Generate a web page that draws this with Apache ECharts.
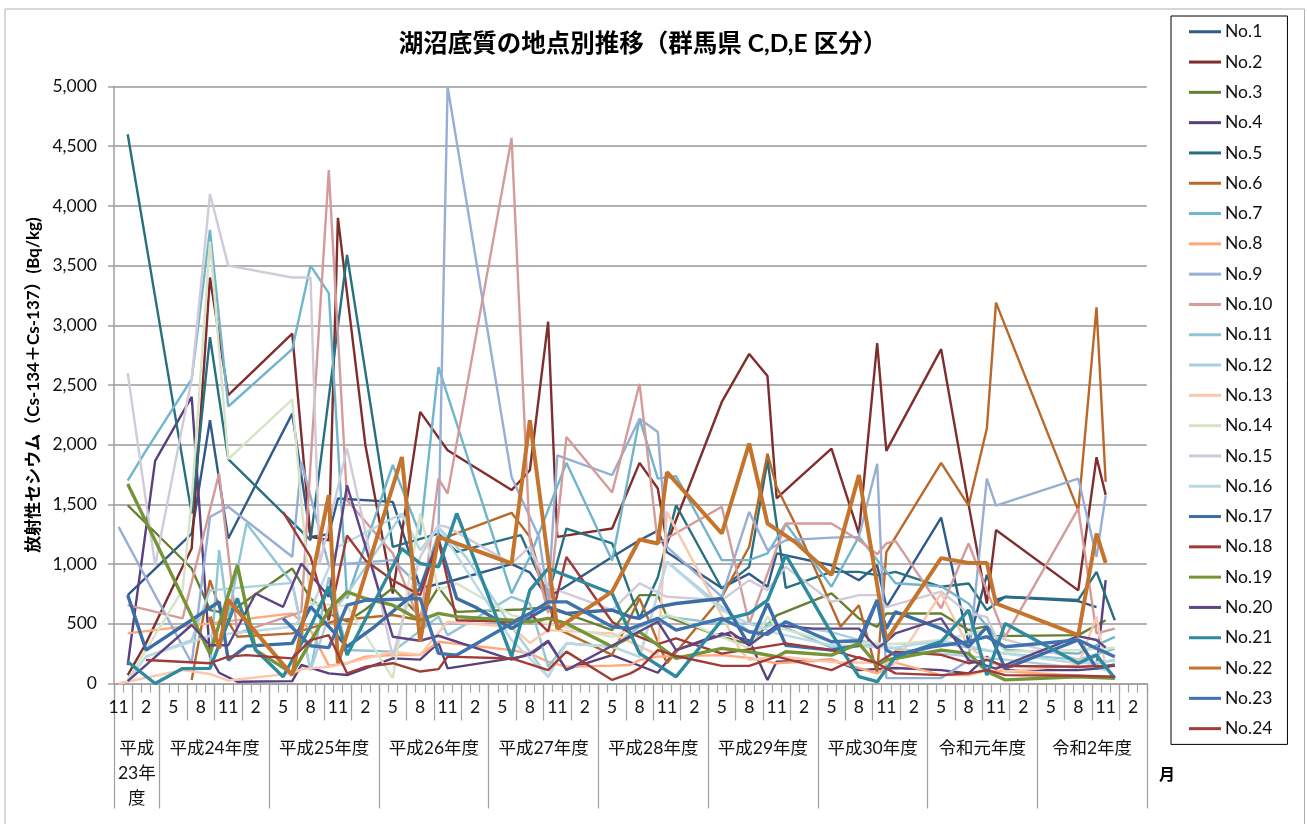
<!DOCTYPE html>
<html><head><meta charset="utf-8">
<style>html,body{margin:0;padding:0;background:#fff;overflow:hidden}#c{width:1307px;height:824px}</style>
<script src="https://cdn.jsdelivr.net/npm/echarts@6/dist/echarts.min.js"></script>
</head><body><div id="c"></div>
<script>
// Month labels: Nov 2011 .. Mar 2021 (index 0 = Nov of FY H23)
const monthNames = [11,12,1,2,3];
for (let y = 0; y < 9; y++) monthNames.push(4,5,6,7,8,9,10,11,12,1,2,3);
const months = monthNames.map(String);
const yearLabels = ['平成\n23年\n度','平成24年度','平成25年度','平成26年度','平成27年度','平成28年度','平成29年度','平成30年度','令和元年度','令和2年度'];
const yearBoundaries = [0,5,17,29,41,53,65,77,89,101,113];
const seriesNames = Array.from({length:24},(_,i)=>'No.'+(i+1));
// each series: [month index, Bq/kg]
const no1=[[1,740],[8,1256],[10,2205],[12,1214],[19,2260],[21,1228],[23,1250],[24,1549],[30,1521],[31,1290],[33,800],[36,850],[43,1000],[45,930],[47,720],[54,1060],[57,1200],[59,1280],[60,1100],[66,800],[69,920],[71,810],[72,1090],[78,990],[81,865],[83,990],[84,640],[90,1390],[93,340],[95,910],[96,700],[97,725],[105,690],[107,640]];
const no2=[[1,70],[3,336],[7,977],[8,1130],[10,3400],[12,2415],[19,2930],[21,1228],[23,1200],[24,3900],[27,2000],[30,754],[33,2275],[36,1953],[43,1620],[45,1786],[47,3030],[48,1228],[54,1298],[57,1848],[59,1633],[60,1173],[66,2358],[69,2760],[71,2575],[72,1550],[74,1690],[78,1968],[81,1255],[83,2850],[84,1948],[90,2800],[93,1500],[95,670],[96,1285],[105,780],[107,1895],[108,1580]];
const no3=[[1,1493],[8,963],[10,615],[11,600],[13,640],[19,963],[21,712],[23,586],[25,520],[27,620],[30,800],[33,560],[35,805],[37,600],[44,620],[47,640],[54,447],[56,640],[57,740],[59,740],[60,560],[66,390],[69,330],[72,570],[78,754],[81,545],[83,475],[84,586],[90,586],[93,447],[95,480],[96,397],[105,405],[108,530]];
const no4=[[1,155],[4,1865],[8,2400],[10,225],[11,90],[13,15],[19,20],[20,155],[23,85],[25,71],[30,210],[33,200],[35,340],[36,127],[43,210],[45,238],[47,350],[49,118],[54,238],[59,90],[61,280],[66,420],[69,360],[71,30],[72,183],[78,200],[81,112],[85,130],[90,112],[93,85],[95,225],[97,112],[105,112],[107,125],[108,866]];
const no5=[[1,4600],[8,1423],[10,2900],[12,1880],[21,1200],[25,3590],[30,1145],[35,1256],[37,1103],[44,1243],[47,740],[49,1298],[54,1173],[57,545],[59,890],[61,1493],[66,796],[69,977],[71,1870],[73,800],[78,935],[81,935],[83,908],[84,920],[85,935],[90,810],[93,838],[95,615],[97,726],[105,700],[107,935],[109,530]];
const no6=[[8,30],[10,866],[11,642],[13,392],[19,420],[24,530],[30,574],[33,530],[35,1200],[43,1430],[45,1228],[47,670],[48,460],[54,240],[57,712],[60,170],[66,726],[69,1145],[71,1925],[72,1646],[74,1340],[79,475],[81,655],[83,85],[84,1100],[90,1848],[93,1490],[95,2135],[96,3190],[105,1450],[107,3150],[108,1690]];
const no7=[[1,1700],[3,1950],[8,2550],[10,3800],[12,2320],[19,2800],[21,3500],[23,3270],[25,712],[30,1830],[33,1243],[35,2650],[43,755],[45,1060],[49,1848],[54,1030],[57,2218],[59,1716],[61,1736],[66,1033],[69,1033],[71,1090],[73,1340],[78,810],[81,1230],[85,840],[90,815],[93,670],[95,480],[97,280],[105,250],[109,390]];
const no8=[[1,420],[19,587],[21,447],[23,150],[25,170],[27,224],[30,239],[33,239],[35,350],[43,280],[45,250],[47,183],[49,140],[54,150],[56,155],[57,197],[59,225],[66,238],[69,215],[72,170],[78,197],[83,85],[85,175],[90,70],[93,70],[95,110],[107,57],[109,57]];
const no9=[[0,1312],[8,170],[10,1395],[12,1480],[19,1061],[20,1856],[23,990],[30,1033],[33,810],[35,1260],[36,5000],[43,1730],[46,1228],[47,700],[48,1910],[54,1745],[57,2218],[59,2107],[60,1145],[66,726],[69,1437],[71,1117],[73,1200],[78,1222],[81,1228],[83,1840],[84,45],[90,45],[93,195],[95,1716],[96,1490],[105,1716],[107,1060],[108,1575]];
const no10=[[1,657],[7,545],[11,1760],[13,420],[20,600],[23,4300],[25,1535],[30,1090],[33,500],[35,1716],[36,1590],[43,4570],[45,1200],[47,590],[49,2065],[54,1600],[57,2510],[59,1173],[66,1480],[69,500],[73,1340],[78,1340],[81,1200],[83,1083],[84,1173],[85,1195],[90,630],[93,1173],[97,390],[105,1465],[107,420],[109,460]];
const no11=[[10,140],[11,1117],[12,560],[14,1340],[19,840],[21,110],[23,890],[25,280],[30,267],[35,560],[36,405],[43,726],[45,670],[47,140],[49,335],[54,310],[57,475],[60,560],[66,500],[72,500],[78,300],[84,330],[90,340],[97,250],[105,200],[109,290]];
const no12=[[3,225],[8,364],[10,780],[19,843],[21,112],[23,560],[25,750],[31,1417],[33,1117],[35,1310],[38,1060],[43,475],[47,55],[49,336],[54,308],[57,224],[60,1020],[66,642],[69,430],[72,500],[78,430],[84,300],[90,250],[97,200],[105,130],[109,200]];
const no13=[[0,0],[7,112],[10,80],[12,25],[19,85],[20,120],[23,140],[25,170],[30,266],[33,240],[36,517],[43,475],[45,340],[47,447],[54,420],[59,240],[60,1437],[68,280],[69,197],[72,230],[78,180],[85,170],[90,754],[93,307],[97,100],[105,155],[107,560],[108,130]];
const no14=[[1,30],[7,782],[8,1536],[10,3700],[12,1880],[19,2380],[21,670],[25,650],[30,45],[33,1424],[35,782],[37,838],[43,573],[47,500],[54,390],[60,580],[69,295],[71,560],[72,470],[78,350],[85,330],[90,364],[95,450],[97,267],[105,280],[109,300]];
const no15=[[1,2600],[4,990],[8,2550],[10,4100],[12,3500],[19,3400],[21,3400],[22,1000],[25,1968],[30,225],[33,1060],[35,1326],[36,1310],[43,1005],[45,1145],[47,810],[49,754],[54,615],[57,838],[60,726],[66,698],[69,866],[71,782],[73,977],[78,685],[81,740],[83,740],[84,640],[90,770],[93,587],[95,558],[96,390],[105,200],[108,110]];
const no16=[[1,20],[3,225],[10,400],[19,475],[21,615],[24,1145],[31,1423],[33,1117],[35,1310],[43,364],[47,57],[49,336],[54,308],[57,224],[60,1019],[66,615],[69,500],[72,420],[78,320],[85,300],[90,360],[97,250],[105,170],[109,190]];
const no17=[[1,740],[3,280],[11,685],[12,196],[14,313],[19,336],[21,643],[25,308],[28,475],[33,795],[35,1200],[37,712],[39,640],[43,460],[47,642],[49,587],[54,615],[56,558],[57,545],[59,642],[61,670],[66,712],[69,320],[71,670],[73,320],[78,280],[81,320],[83,698],[84,460],[85,600],[90,460],[93,308],[95,475],[97,127],[105,364],[107,127],[109,155]];
const no18=[[18,1435],[21,1060],[23,530],[25,1240],[27,1033],[30,865],[33,740],[35,1200],[37,530],[43,517],[45,587],[47,434],[49,1060],[54,517],[56,420],[59,330],[61,378],[66,250],[73,336],[78,280],[83,170],[85,267],[90,240],[93,170],[95,197],[97,146],[105,140],[109,150]];
const no19=[[1,1670],[10,250],[13,990],[15,280],[19,85],[23,615],[25,768],[27,712],[30,656],[33,530],[35,587],[37,560],[43,530],[45,517],[47,545],[49,503],[54,308],[56,392],[57,433],[61,210],[66,294],[69,266],[72,225],[73,266],[78,238],[81,336],[83,155],[84,197],[90,280],[93,252],[95,100],[97,30],[105,57],[109,43]];
const no20=[[1,20],[8,490],[10,320],[12,320],[15,754],[18,642],[20,1005],[23,726],[25,1660],[30,392],[33,358],[35,400],[43,200],[45,250],[47,358],[49,112],[54,316],[59,517],[61,280],[67,430],[69,320],[72,487],[76,460],[81,460],[83,295],[84,350],[85,420],[90,545],[93,195],[96,125],[105,397],[107,364],[108,300]];
const no21=[[1,182],[4,0],[7,125],[10,127],[13,712],[15,280],[18,57],[21,475],[23,810],[25,238],[31,1130],[33,1005],[35,977],[37,1424],[43,225],[45,782],[47,963],[54,754],[57,252],[61,57],[66,530],[69,587],[71,698],[73,1075],[78,420],[81,57],[83,15],[85,224],[90,350],[93,615],[95,70],[97,503],[105,170],[107,238],[109,43]];
const no22=[[10,560],[11,294],[12,700],[19,70],[23,1578],[24,170],[31,1897],[33,350],[35,1228],[43,1005],[45,2205],[48,460],[54,770],[57,1206],[59,1173],[60,1770],[66,1256],[69,2010],[71,1340],[74,1186],[78,908],[81,1745],[84,364],[90,1050],[93,1010],[95,1010],[96,670],[105,405],[107,1256],[108,1010]];
const no23=[[18,545],[21,316],[23,300],[25,656],[27,697],[33,712],[35,252],[37,238],[43,503],[45,586],[47,684],[49,684],[54,475],[56,460],[59,545],[61,447],[66,545],[69,433],[71,411],[73,517],[78,350],[81,358],[83,698],[84,280],[85,238],[89,308],[93,350],[95,392],[97,308],[105,364],[109,224]];
const no24=[[3,197],[10,170],[12,225],[14,238],[19,210],[21,364],[23,405],[25,85],[27,140],[30,170],[33,100],[35,120],[36,225],[43,210],[47,112],[49,267],[54,30],[56,85],[57,127],[59,280],[61,230],[66,148],[69,148],[72,225],[78,112],[81,220],[83,170],[84,127],[85,85],[90,70],[93,85],[95,112],[97,70],[105,65],[109,57]];
const allData=[no1,no2,no3,no4,no5,no6,no7,no8,no9,no10,no11,no12,no13,no14,no15,no16,no17,no18,no19,no20,no21,no22,no23,no24];
const colors=['#2F5A8A','#7F2D2D','#648030','#5A3F7E','#26707F','#B9682A','#70B5CC','#FFA878','#97AED6','#D59B9B','#8FC5D5','#A9D0DE','#FBC7AF','#D7E3C6','#D0CAD9','#BBD9E3','#3A6CA5','#A03A38','#749436','#5E4585','#2E8A9E','#C4742C','#3F72AE','#A03C38'];
const widths=[2.4,2.4,2.4,2.4,2.4,2.4,2.4,2.4,2.4,2.4,2.4,2.4,2.4,2.4,2.4,2.4,3.4,2.4,3.4,2.4,3.4,4,3.4,2.4];
const gray='#a0a0a0', font='Lato,"Noto Sans CJK JP",sans-serif';
const chart=echarts.init(document.getElementById('c'),null,{renderer:'canvas'});
chart.setOption({
  animation:false,
  textStyle:{fontFamily:font},
  title:{text:'湖沼底質の地点別推移（群馬県 C,D,E 区分）',left:638,top:27,textAlign:'center',textStyle:{fontFamily:font,fontSize:24.5,fontWeight:'bold',color:'#000'}},
  legend:{orient:'vertical',left:1171,top:16,data:seriesNames,icon:'rect',itemWidth:32,itemHeight:3,itemGap:12.8,padding:[7,15,7,18],borderColor:'#000',borderWidth:1,selectedMode:false,
    textStyle:{fontFamily:font,fontSize:17.5,color:'#111',padding:[0,0,0,-1]}},
  grid:{left:114,top:86.5,width:1032.8,height:597,containLabel:false},
  yAxis:{type:'value',min:0,max:5000,interval:500,
    name:'放射性セシウム（Cs-134＋Cs-137）(Bq/kg)',nameLocation:'middle',nameGap:67,nameTextStyle:{fontFamily:font,fontSize:17,fontWeight:'bold',color:'#000'},
    axisLine:{show:true,lineStyle:{color:gray,width:1.5}},axisTick:{show:true,length:6,lineStyle:{color:gray,width:1.5}},
    axisLabel:{fontSize:17.5,color:'#111',margin:17,formatter:v=>v.toLocaleString('en-US')},
    splitLine:{show:true,lineStyle:{color:'#999',width:1.5}}},
  xAxis:[
    {type:'category',data:months,boundaryGap:true,position:'bottom',
      axisLine:{show:true,lineStyle:{color:gray,width:1.5}},
      axisTick:{show:true,interval:0,length:9,lineStyle:{color:gray,width:1.2}},
      axisLabel:{interval:2,fontSize:17.5,color:'#111',margin:15,hideOverlap:false}},
    {type:'category',data:months,boundaryGap:true,position:'bottom',
      axisLine:{show:false},axisLabel:{show:false},
      axisTick:{show:true,interval:i=>i%3===2||i===0,length:37,lineStyle:{color:gray,width:1.2}}},
    {type:'value',min:0,max:113,position:'bottom',
      axisLine:{show:false},splitLine:{show:false},
      axisTick:{show:true,length:125,customValues:yearBoundaries,lineStyle:{color:gray,width:1.2}},
      axisLabel:{fontSize:17.5,color:'#111',margin:52,lineHeight:25,
        customValues:yearBoundaries.slice(0,-1).map((b,i)=>(b+yearBoundaries[i+1])/2),
        formatter:v=>yearLabels[yearBoundaries.findIndex((b,i)=>(b+yearBoundaries[i+1])/2===v)]}}
  ],
  graphic:[
    {type:'rect',z:-10,shape:{x:5,y:9,width:1299.5,height:830},style:{fill:'#fff',stroke:'#b0b0b0',lineWidth:1}},
    {type:'text',x:1159,y:767,style:{text:'月',fontFamily:font,fontSize:16,fontWeight:'bold',fill:'#000'}}
  ],
  series:allData.map((d,i)=>({name:seriesNames[i],type:'line',data:d,xAxisIndex:0,symbol:'none',smooth:false,
    lineStyle:{color:colors[i],width:widths[i]},itemStyle:{color:colors[i]}}))
});
</script></body></html>
